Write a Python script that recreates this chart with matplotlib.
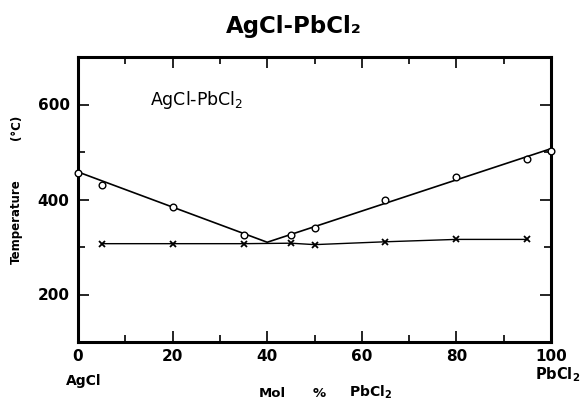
import matplotlib
matplotlib.use("Agg")
import matplotlib.pyplot as plt
from matplotlib.ticker import MultipleLocator

# Liquidus points (open circles)
liq_x = [0, 5, 20, 35, 45, 50, 65, 80, 95, 100]
liq_t = [456, 431, 385, 325, 326, 340, 399, 448, 486, 503]

# Eutectic arrest points (crosses)
sol_x = [5, 20, 35, 45, 50, 65, 80, 95]
sol_t = [307, 307, 307, 308, 305, 311, 316, 316]

# Liquidus branches drawn as straight segments meeting at the eutectic
branch_x = [0, 40, 100]
branch_t = [458, 310, 507]

x_ticks = [0, 20, 40, 60, 80, 100]
y_ticks = [200, 400, 600]

W, H = 583, 405
fig = plt.figure(figsize=(W / 100, H / 100), dpi=100)
ax = fig.add_axes([78 / W, 1 - 342 / H, (551 - 78) / W, (342 - 57) / H])

ax.plot(branch_x, branch_t, color="black", lw=1.2, zorder=2)
ax.plot(sol_x, sol_t, color="black", lw=1.0, zorder=2)
ax.plot(liq_x, liq_t, linestyle="none", marker="o", ms=4.8, mfc="white",
        mec="black", mew=1.0, zorder=3, clip_on=False)
ax.plot(sol_x, sol_t, linestyle="none", marker="x", ms=4.5, mec="black",
        mew=1.3, zorder=3)

ax.set_xlim(0, 100)
ax.set_ylim(100, 700)
ax.xaxis.set_minor_locator(MultipleLocator(10))
ax.yaxis.set_minor_locator(MultipleLocator(100))
ax.set_xticks(x_ticks)
ax.set_yticks(y_ticks)
ax.set_xticklabels([str(v) for v in x_ticks])
ax.set_yticklabels([str(v) for v in y_ticks])

for s in ax.spines.values():
    s.set_linewidth(2.2)

ax.tick_params(which="both", direction="in", top=True, right=True,
               width=1.2, labelsize=11)
ax.tick_params(which="major", length=8, pad=6)
ax.tick_params(axis="x", which="major", pad=5)
ax.tick_params(which="minor", length=5)
for lab in ax.get_xticklabels() + ax.get_yticklabels():
    lab.set_fontweight("bold")

ax.text(15.3, 599, "AgCl-PbCl$_2$", fontsize=12.5, ha="left", va="baseline")


def ftext(x, y, s, **kw):
    fig.text(x / W, 1 - y / H, s, **kw)


# Title
ftext(294, 26, "AgCl-PbCl₂", fontsize=16.5, fontweight="bold",
      ha="center", va="center")

# End-member names under the x axis
ftext(84, 385, "AgCl", fontsize=10, fontweight="bold", ha="center", va="baseline")
ftext(535, 379, r"$\mathbf{PbCl_2}$", fontsize=10.5, ha="left", va="baseline")

# x axis label, spaced out
ftext(272, 397, "Mol", fontsize=9.5, fontweight="bold", ha="center", va="baseline")
ftext(319, 397, "%", fontsize=9.5, fontweight="bold", ha="center", va="baseline")
ftext(349, 397, r"$\mathbf{PbCl_2}$", fontsize=10, ha="left", va="baseline")

# y axis label, spaced out
ftext(16, 222, "Temperature", fontsize=8.5, fontweight="bold",
      rotation=90, ha="center", va="center")
ftext(16, 127, "(°C)", fontsize=8.5, fontweight="bold",
      rotation=90, ha="center", va="center")

fig.savefig("out.png", dpi=100)
